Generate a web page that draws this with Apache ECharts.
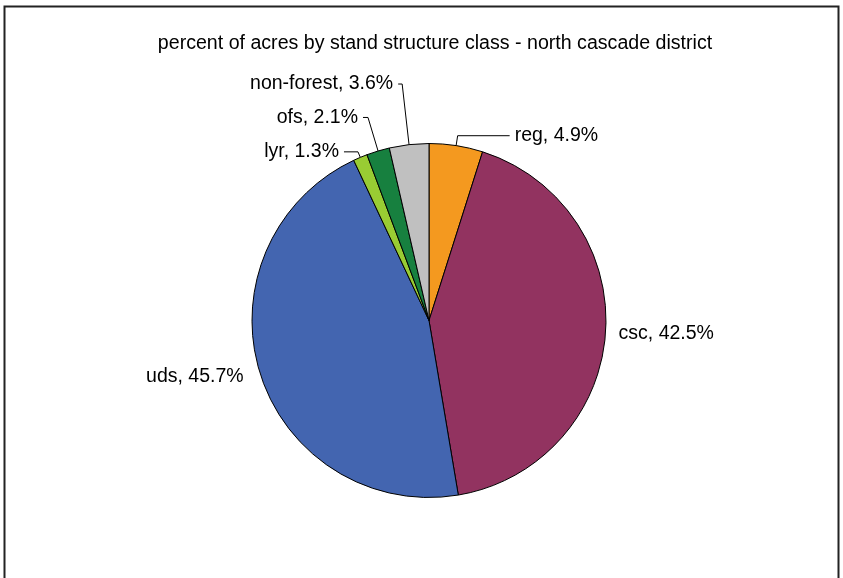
<!DOCTYPE html>
<html>
<head>
<meta charset="utf-8">
<script src="https://cdn.jsdelivr.net/npm/echarts@6/dist/echarts.min.js"></script>
<style>
  html, body { margin: 0; padding: 0; background: #fff; }
  #main { width: 843px; height: 578px; }
</style>
</head>
<body>
<div id="main"></div>
<script>
var classNames = ['reg', 'csc', 'uds', 'lyr', 'ofs', 'non-forest']
var percents = [4.9, 42.5, 45.7, 1.3, 2.1, 3.6]
var sliceColors = ['#F4991F', '#923360', '#4365B0', '#99CC33', '#17803F', '#C0C0C0']

// leader line lengths per slice [length, length2, show]
var lineLens = [
	[10, 52, true],
	[6, 2, false],
	[12, 0, false],
	[6, 14, true],
	[35, 5, true],
	[61, 4, true]
]

var chart = echarts.init(document.getElementById('main'))

var pieData = classNames.map(function(name, i) {
	return {
		name: name,
		value: percents[i],
		itemStyle: { color: sliceColors[i] },
		labelLine: {
			show: lineLens[i][2],
			length: lineLens[i][0],
			length2: lineLens[i][1]
		}
	}
})

var option = {
	backgroundColor: '#fff',
	animation: false,
	title: {
		text: 'percent of acres by stand structure class - north cascade district',
		left: 430,
		top: 29,
		textAlign: 'center',
		textStyle: {
			fontFamily: 'Liberation Sans, Arial, sans-serif',
			fontSize: 19.6,
			fontWeight: 'normal',
			color: '#000'
		}
	},
	graphic: [{
		type: 'rect',
		shape: { x: 4.5, y: 6.5, width: 834, height: 620 },
		style: { fill: 'none', stroke: '#222', lineWidth: 2 },
		silent: true
	}],
	series: [{
		type: 'pie',
		center: [429, 320.5],
		radius: 177,
		startAngle: 90,
		clockwise: true,
		avoidLabelOverlap: false,
		minShowLabelAngle: 0,
		itemStyle: { borderColor: '#000', borderWidth: 1 },
		label: {
			show: true,
			position: 'outside',
			formatter: function(p) { return p.name + ', ' + p.value.toFixed(1) + '%' },
			fontFamily: 'Liberation Sans, Arial, sans-serif',
			fontSize: 19.5,
			color: '#000',
			distanceToLabelLine: 5
		},
		labelLine: {
			lineStyle: { color: '#000', width: 1 },
			smooth: false
		},
		emphasis: { disabled: true },
		data: pieData
	}]
}

chart.setOption(option)
</script>
</body>
</html>
